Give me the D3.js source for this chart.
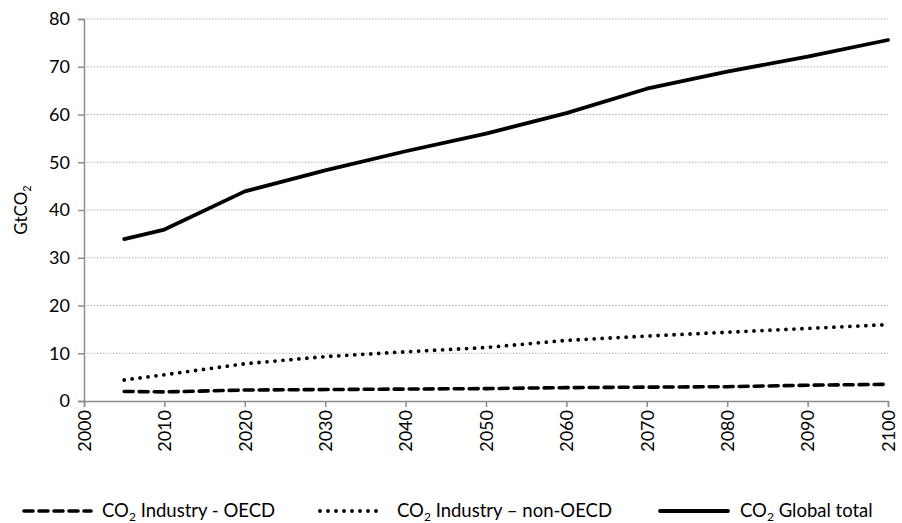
<!DOCTYPE html>
<html>
<head>
<meta charset="utf-8">
<script src="https://cdn.jsdelivr.net/npm/d3@7"></script>
<style>
  body { margin: 0; background: #fff; }
  svg text { font-family: Lato, "Open Sans", sans-serif; fill: #000; }
</style>
</head>
<body>
<div id="chart"></div>
<script>
// data
const years = [2005, 2010, 2020, 2030, 2040, 2050, 2060, 2070, 2080, 2090, 2100];
const oecd = [2.0, 1.9, 2.3, 2.4, 2.5, 2.6, 2.8, 2.9, 3.0, 3.3, 3.5];
const nonOecd = [4.4, 5.5, 7.8, 9.3, 10.3, 11.2, 12.7, 13.6, 14.4, 15.2, 16.0];
const globalTotal = [33.9, 35.9, 43.9, 48.3, 52.3, 56.0, 60.3, 65.4, 69.0, 72.1, 75.6];
const xTicks = [2000, 2010, 2020, 2030, 2040, 2050, 2060, 2070, 2080, 2090, 2100];
const yTicks = [0, 10, 20, 30, 40, 50, 60, 70, 80];

const width = 902, height = 523;
const margin = { top: 19, right: 14, bottom: 122, left: 84 };
const innerW = width - margin.left - margin.right;
const innerH = height - margin.top - margin.bottom;

const svg = d3.select('#chart')
  .append('svg')
  .attr('width', width)
  .attr('height', height);

const g = svg.append('g')
  .attr('transform', `translate(${margin.left},${margin.top})`);

const x = d3.scaleLinear().domain([2000, 2100]).range([0, innerW]);
const y = d3.scaleLinear().domain([0, 80]).range([innerH, 0]);

// gridlines
g.selectAll('.grid')
  .data(yTicks.filter(d => d > 0))
  .enter()
  .append('line')
  .attr('x1', 0)
  .attr('x2', innerW)
  .attr('y1', d => y(d))
  .attr('y2', d => y(d))
  .attr('stroke', '#a0a0a0')
  .attr('stroke-width', 1)
  .attr('stroke-dasharray', '1.2,2');

// y axis
const yAxis = g.append('g')
  .call(d3.axisLeft(y).tickValues(yTicks).tickSize(6).tickPadding(8));
yAxis.selectAll('text').style('font-size', '18px');

// x axis
const xAxis = g.append('g')
  .attr('transform', `translate(0,${innerH})`)
  .call(d3.axisBottom(x).tickValues(xTicks).tickFormat(d3.format('d')).tickSize(6));
xAxis.selectAll('text')
  .style('font-size', '18px')
  .attr('transform', 'rotate(-90)')
  .attr('text-anchor', 'end')
  .attr('x', -9)
  .attr('y', 0)
  .attr('dy', '0.35em');

[yAxis, xAxis].forEach(a => {
  a.select('.domain').attr('stroke', '#8c8c8c').attr('stroke-width', 1.5);
  a.selectAll('.tick line').attr('stroke', '#8c8c8c').attr('stroke-width', 1.5);
});

// y label
svg.append('text')
  .attr('transform', `translate(27,${margin.top + y(40)}) rotate(-90)`)
  .attr('text-anchor', 'middle')
  .style('font-size', '17px')
  .html('GtCO<tspan dy="4" font-size="11px">2</tspan>');

const series = [
  { values: oecd, dash: '9,6', cap: 'round', width: 3.6 },
  { values: nonOecd, dash: '0,8', cap: 'round', width: 3.8 },
  { values: globalTotal, dash: null, cap: 'round', width: 3.8 }
];

const line = d3.line()
  .x((d, i) => x(years[i]))
  .y(d => y(d));

series.forEach(s => {
  g.append('path')
    .datum(s.values)
    .attr('fill', 'none')
    .attr('stroke', '#000')
    .attr('stroke-width', s.width)
    .attr('stroke-linecap', s.cap)
    .attr('stroke-linejoin', 'round')
    .attr('stroke-dasharray', s.dash)
    .attr('d', line);
});

// legend
const legendItems = [
  { x0: 24, x1: 91, tx: 102, label: ' Industry - OECD', s: series[0] },
  { x0: 320, x1: 381, tx: 397, label: ' Industry \u2013 non-OECD', s: series[1] },
  { x0: 660, x1: 728, tx: 740, label: ' Global total', s: series[2] }
];
const ly = 511;
legendItems.forEach(item => {
  svg.append('line')
    .attr('x1', item.x0).attr('x2', item.x1)
    .attr('y1', ly).attr('y2', ly)
    .attr('stroke', '#000')
    .attr('stroke-width', item.s.width)
    .attr('stroke-linecap', item.s.cap)
    .attr('stroke-dasharray', item.s.dash);
  const t = svg.append('text')
    .attr('x', item.tx)
    .attr('y', ly + 6)
    .style('font-size', '18.5px');
  t.append('tspan').text('CO');
  t.append('tspan').attr('dy', 4).style('font-size', '12px').text('2');
  t.append('tspan').attr('dy', -4).text(item.label);
});
</script>
</body>
</html>
